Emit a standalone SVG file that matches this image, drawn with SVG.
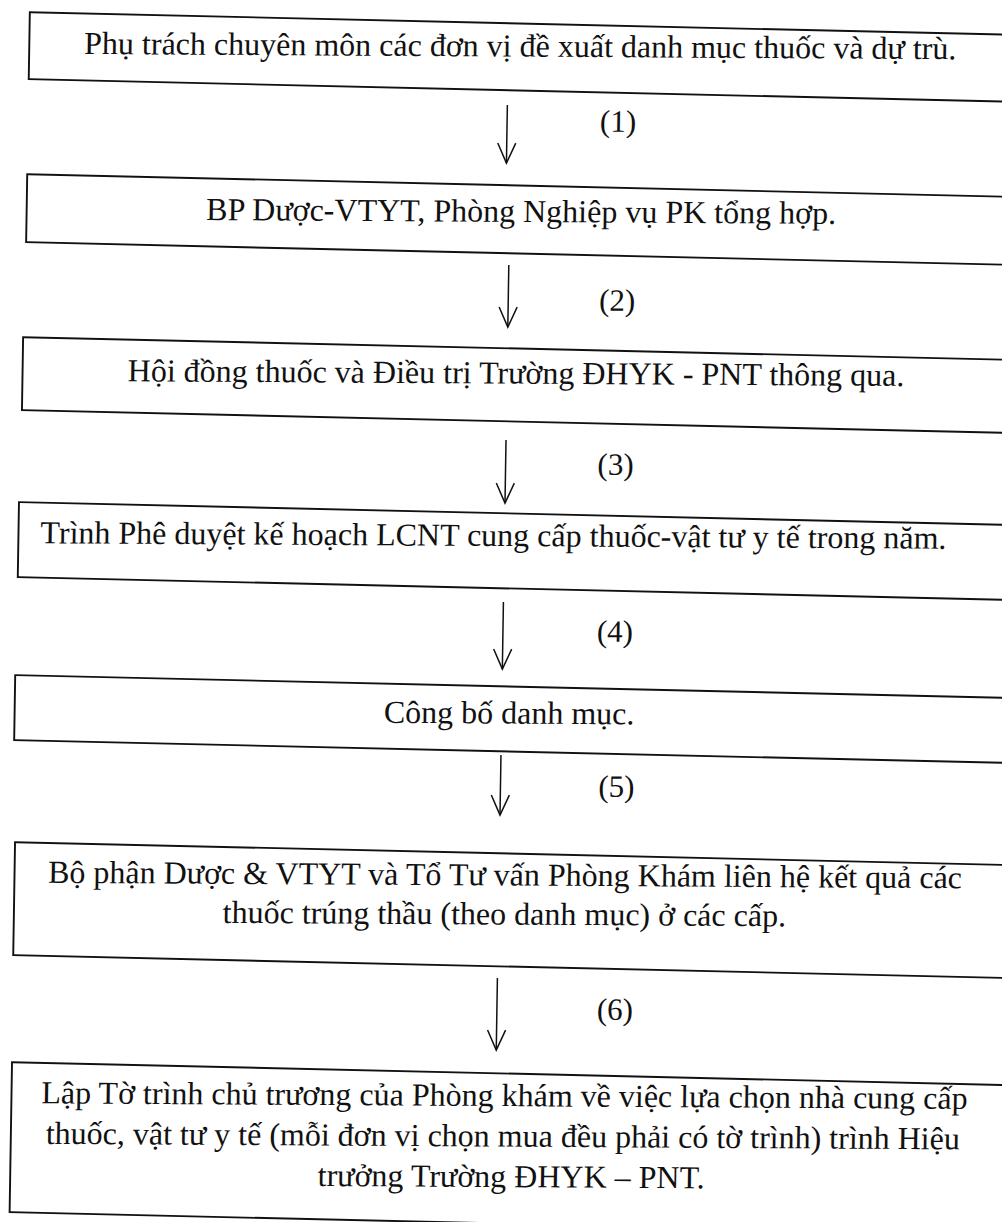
<svg xmlns="http://www.w3.org/2000/svg" width="1002" height="1222" viewBox="0 0 1002 1222">
<style>
.box{fill:none;stroke:#111;stroke-width:1.9}
.t{font-family:"Liberation Serif","Times New Roman",serif;font-size:32px;fill:#111;text-anchor:middle}
.lbl{font-family:"Liberation Serif","Times New Roman",serif;font-size:31px;fill:#111;text-anchor:middle}
.edge{fill:none;stroke:#111;stroke-width:1.5;marker-end:url(#ah)}
</style>
<defs>
<marker id="ah" viewBox="-22 -11 24 22" markerWidth="24" markerHeight="22" refX="0" refY="0" orient="auto" markerUnits="userSpaceOnUse">
<path d="M-20,-9 L0,0 L-20,9" fill="none" stroke="#111" stroke-width="1.5"/>
</marker>
</defs>
<rect width="1002" height="1222" fill="#fff"/>
<g id="node1"><rect class="box" transform="matrix(1 0.023 -0.016 1 0 0)" x="30" y="11.5" width="1100" height="67"/><text class="t" transform="matrix(1 0.006 -0.016 1 0 0)" x="521" y="53.5">Phụ trách chuyên môn các đơn vị đề xuất danh mục thuốc và dự trù.</text></g>
<g id="node2"><rect class="box" transform="matrix(1 0.023 -0.016 1 0 0)" x="30" y="173.5" width="1100" height="68"/><text class="t" transform="matrix(1 0.006 -0.016 1 0 0)" x="524.5" y="218.8">BP Dược-VTYT, Phòng Nghiệp vụ PK tổng hợp.</text></g>
<g id="node3"><rect class="box" transform="matrix(1 0.023 -0.016 1 0 0)" x="28.5" y="336.5" width="1100" height="73"/><text class="t" transform="matrix(1 0.006 -0.016 1 0 0)" x="522" y="380.5">Hội đồng thuốc và Điều trị Trường ĐHYK - PNT thông qua.</text></g>
<g id="node4"><rect class="box" transform="matrix(1 0.023 -0.016 1 0 0)" x="27" y="501.5" width="1100" height="75"/><text class="t" transform="matrix(1 0.006 -0.016 1 0 0)" x="502" y="543">Trình Phê duyệt kế hoạch LCNT cung cấp thuốc-vật tư y tế trong năm.</text></g>
<g id="node5"><rect class="box" transform="matrix(1 0.023 -0.016 1 0 0)" x="26" y="674.5" width="1100" height="65"/><text class="t" transform="matrix(1 0.006 -0.016 1 0 0)" x="520.5" y="720.5">Công bố danh mục.</text></g>
<g id="node6"><rect class="box" transform="matrix(1 0.023 -0.016 1 0 0)" x="28.5" y="841.5" width="1100" height="113"/><text class="t" transform="matrix(1 0.006 -0.016 1 0 0)" x="519" y="882.4">Bộ phận Dược &amp; VTYT và Tổ Tư vấn Phòng Khám liên hệ kết quả các</text><text class="t" transform="matrix(1 0.006 -0.016 1 0 0)" x="519" y="921.5">thuốc trúng thầu (theo danh mục) ở các cấp.</text></g>
<g id="node7"><rect class="box" transform="matrix(1 0.023 -0.016 1 0 0)" x="29" y="1061.5" width="1100" height="150"/><text class="t" transform="matrix(1 0.006 -0.016 1 0 0)" x="522" y="1103">Lập Tờ trình chủ trương của Phòng khám về việc lựa chọn nhà cung cấp</text><text class="t" transform="matrix(1 0.006 -0.016 1 0 0)" x="521" y="1143.5">thuốc, vật tư y tế (mỗi đơn vị chọn mua đều phải có tờ trình) trình Hiệu</text><text class="t" transform="matrix(1 0.006 -0.016 1 0 0)" x="530" y="1184">trưởng Trường ĐHYK – PNT.</text></g>
<g id="connectors" transform="matrix(1 0.006 -0.016 1 0 0)">
<path class="edge" d="M509,102 V160"/><text class="lbl" x="620" y="128">(1)</text>
<path class="edge" d="M513,262 V324"/><text class="lbl" x="622" y="307">(2)</text>
<path class="edge" d="M513,437 V500"/><text class="lbl" x="623" y="471">(3)</text>
<path class="edge" d="M513,599 V666"/><text class="lbl" x="625" y="638">(4)</text>
<path class="edge" d="M513,752 V812"/><text class="lbl" x="629" y="793">(5)</text>
<path class="edge" d="M513,975 V1047"/><text class="lbl" x="631" y="1016">(6)</text>
</g>
</svg>
